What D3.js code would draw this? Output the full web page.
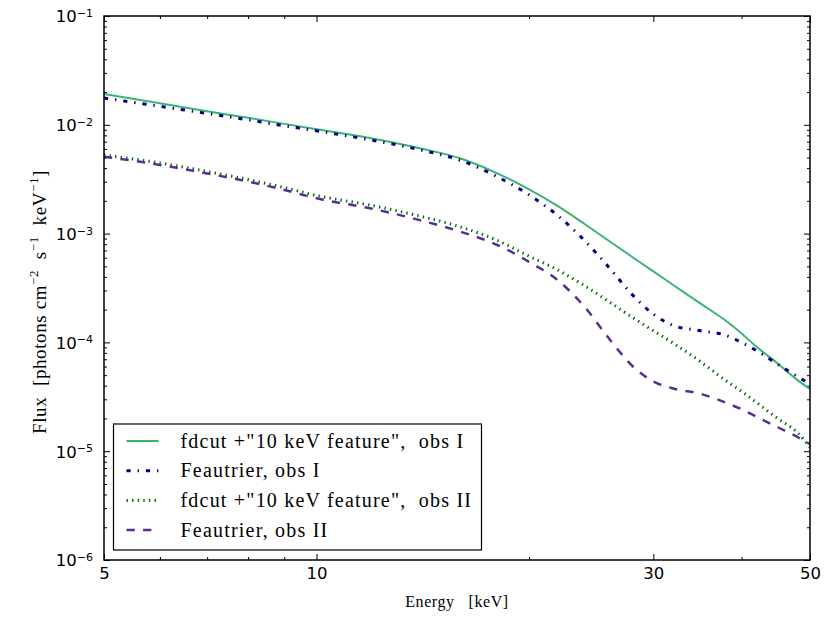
<!DOCTYPE html>
<html>
<head>
<meta charset="utf-8">
<script src="https://cdn.jsdelivr.net/npm/d3@7"></script>
<style>
  body { margin: 0; background: #fff; }
  svg { display: block; }
  .serif { font-family: "Liberation Serif", "DejaVu Serif", serif; white-space: pre; }
  .tick text { font-family: "DejaVu Sans", sans-serif; font-size: 16.5px; fill: #000; }
</style>
</head>
<body>
<div id="chart"></div>
<script>
/* Spectra: flux vs energy, log-log */

// energies in keV
const energy = [5, 6, 7, 8, 9, 10, 12, 14, 16, 18, 20, 22, 24, 26, 28, 30, 32, 35, 38, 40, 42, 45, 48, 50];

// flux [photons cm^-2 s^-1 keV^-1]
const fdcutObsI = [0.0192, 0.0158, 0.0133, 0.0116, 0.0102, 0.0091, 0.0075, 0.0061, 0.0049, 0.0036,
    0.00255, 0.00178, 0.00122, 0.00085, 0.00061, 0.00045, 0.000337, 0.000227, 0.000158, 0.000121,
    9.1e-5, 6.4e-5, 4.5e-5, 3.73e-5];
const feautrierObsI = [0.0176, 0.0148, 0.0127, 0.0111, 0.0098, 0.0088, 0.0072, 0.0059, 0.0047, 0.00335,
    0.00227, 0.00145, 0.000855, 0.000483, 0.000275, 0.000182, 0.000143, 0.000128, 0.000116, 0.0000997,
    8.4e-5, 6.3e-5, 4.85e-5, 4.15e-5];
const fdcutObsII = [0.00527, 0.00446, 0.00372, 0.00314, 0.00265, 0.00224, 0.00181, 0.00145, 0.00115, 0.00087,
    0.00062, 0.00046, 0.00033, 0.000235, 0.00017, 0.000128, 0.0000985, 0.0000665, 0.0000445, 0.0000355,
    0.000028, 0.00002, 0.0000148, 0.0000109];
const feautrierObsII = [0.00509, 0.00428, 0.00357, 0.00301, 0.00252, 0.00211, 0.00169, 0.00133, 0.00104, 0.00079,
    0.00055, 0.00037, 0.00021, 0.000107, 6.1e-5, 4.37e-5, 3.77e-5, 3.37e-5, 2.79e-5, 2.43e-5,
    2.07e-5, 1.66e-5, 1.35e-5, 1.16e-5];

const legendLabels = ['fdcut +"10 keV feature",  obs I', "Feautrier, obs I",
                      'fdcut +"10 keV feature",  obs II', "Feautrier, obs II"];

const xMajor = [5, 10, 30, 50],
      xMinor = [6, 7, 8, 9, 20, 40],
      yExponents = [-1, -2, -3, -4, -5, -6];

const series = [
    { name: legendLabels[0], values: fdcutObsI, color: "#3cb371", width: 2, dash: null },
    { name: legendLabels[1], values: feautrierObsI, color: "#00008b", width: 3, dash: "4.2,6.9,1.4,6.9" },
    { name: legendLabels[2], values: fdcutObsII, color: "#006d00", width: 3, dash: "1.4,4.2" },
    { name: legendLabels[3], values: feautrierObsII, color: "#5c2d91", width: 2.5, dash: "8.3,8.3" }
];

const width = 830,
      height = 623,
      margin = ({ top: 16, right: 20, bottom: 63, left: 104 });

let svg = d3.select("#chart")
    .append("svg")
    .attr("width", width)
    .attr("height", height);

let x = d3.scaleLog()
    .domain([5, 50])
    .range([margin.left, width - margin.right]);

let y = d3.scaleLog()
    .domain([1e-6, 1e-1])
    .range([height - margin.bottom, margin.top]);

// minor y ticks: 2..9 times each decade
let yMinor = [];
for (let p = -6; p < -1; p++) {
    for (let m = 2; m <= 9; m++) yMinor.push(m * Math.pow(10, p));
}
const yMajor = yExponents.map(e => Math.pow(10, e));

function tickAxis(axisFn, scale, values, size, translate) {
    let g = svg.append("g")
        .attr("transform", translate)
        .call(axisFn(scale).tickValues(values).tickSize(size).tickSizeOuter(0).tickFormat(""));
    g.select(".domain").remove();
    g.selectAll(".tick line").attr("stroke", "#000").attr("stroke-width", 1);
    return g;
}

const bottomY = height - margin.bottom,
      rightX = width - margin.right;

// inward ticks on all four sides
tickAxis(d3.axisBottom, x, xMinor, -3, `translate(0,${bottomY})`);
tickAxis(d3.axisTop, x, xMinor, -3, `translate(0,${margin.top})`);
tickAxis(d3.axisTop, x, xMajor, -6, `translate(0,${margin.top})`);
tickAxis(d3.axisLeft, y, yMinor, -3, `translate(${margin.left},0)`);
tickAxis(d3.axisRight, y, yMinor, -3, `translate(${rightX},0)`);
tickAxis(d3.axisRight, y, yMajor, -6, `translate(${rightX},0)`);

// labelled x axis
let gx = svg.append("g")
    .attr("transform", `translate(0,${bottomY})`)
    .call(d3.axisBottom(x).tickValues(xMajor).tickSize(-6).tickSizeOuter(0)
        .tickPadding(7).tickFormat(d3.format("d")));
gx.select(".domain").remove();
gx.selectAll(".tick line").attr("stroke", "#000");

// labelled y axis, 10^n
let gy = svg.append("g")
    .attr("transform", `translate(${margin.left},0)`)
    .call(d3.axisLeft(y).tickValues(yMajor).tickSize(-6).tickSizeOuter(0).tickPadding(11).tickFormat(""));
gy.select(".domain").remove();
gy.selectAll(".tick line").attr("stroke", "#000");
gy.selectAll(".tick text")
    .attr("dy", "0.36em")
    .each(function(d) {
        let t = d3.select(this);
        t.append("tspan").text("10");
        t.append("tspan")
            .attr("dy", -5.5)
            .style("font-size", "11px")
            .text("\u2212" + Math.round(-Math.log10(d)));
    });

// lines
let line = d3.line()
    .x(d => x(d[0]))
    .y(d => y(d[1]))
    .curve(d3.curveMonotoneX);

svg.selectAll(".series")
    .data(series)
    .join("path")
    .attr("class", "series")
    .attr("fill", "none")
    .attr("stroke", d => d.color)
    .attr("stroke-width", d => d.width)
    .attr("stroke-dasharray", d => d.dash)
    .attr("d", d => line(energy.map((e, i) => [e, d.values[i]])));

// frame
svg.append("rect")
    .attr("x", margin.left)
    .attr("y", margin.top)
    .attr("width", rightX - margin.left)
    .attr("height", bottomY - margin.top)
    .attr("fill", "none")
    .attr("stroke", "#000")
    .attr("stroke-width", 1.5);

// axis titles
svg.append("text")
    .attr("class", "serif")
    .attr("text-anchor", "middle")
    .attr("x", (margin.left + rightX) / 2)
    .attr("y", 607)
    .style("font-size", "16px")
    .style("letter-spacing", "0.6px")
    .text("Energy   [keV]");

let yTitle = svg.append("text")
    .attr("class", "serif")
    .attr("text-anchor", "middle")
    .attr("transform", "translate(46,302) rotate(-90)")
    .style("font-size", "19px")
    .style("letter-spacing", "0.6px");
yTitle.append("tspan").text("Flux  [photons cm");
yTitle.append("tspan").attr("dy", -8).style("font-size", "13px").text("\u22122");
yTitle.append("tspan").attr("dy", 8).text("  s");
yTitle.append("tspan").attr("dy", -8).style("font-size", "13px").text("\u22121");
yTitle.append("tspan").attr("dy", 8).text("  keV");
yTitle.append("tspan").attr("dy", -8).style("font-size", "13px").text("\u22121");
yTitle.append("tspan").attr("dy", 8).text("]");

// legend
let legend = svg.append("g").attr("transform", "translate(113.5,424)");
legend.append("rect")
    .attr("width", 368)
    .attr("height", 126)
    .attr("fill", "#fff")
    .attr("stroke", "#000")
    .attr("stroke-width", 1.2);

let row = legend.selectAll(".row")
    .data(series)
    .join("g")
    .attr("class", "row")
    .attr("transform", (d, i) => `translate(0,${17 + i * 29.7})`);

row.append("line")
    .attr("x1", 13).attr("x2", 45)
    .attr("stroke", d => d.color)
    .attr("stroke-width", d => d.width)
    .attr("stroke-dasharray", d => d.dash);

row.append("text")
    .attr("class", "serif")
    .attr("x", 67)
    .attr("dy", "0.33em")
    .style("font-size", "20px")
    .style("letter-spacing", "1.2px")
    .text(d => d.name);
</script>
</body>
</html>
